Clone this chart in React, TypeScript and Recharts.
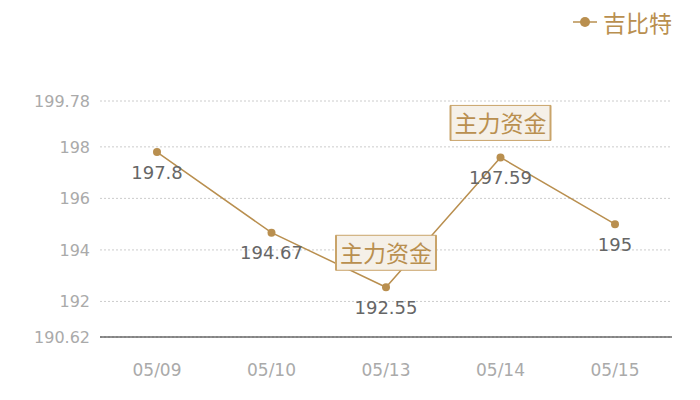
import React from 'react';
import { LineChart, Line, XAxis, YAxis, CartesianGrid, LabelList } from 'recharts';

const dates = ['05/09', '05/10', '05/13', '05/14', '05/15'];
const prices = [197.8, 194.67, 192.55, 197.59, 195];
const flagged = ['05/13', '05/14'];
const yTicks = [190.62, 192, 194, 196, 198, 199.78];
const seriesName = '吉比特';
const flagText = '主力资金';

const gold = '#b98f4f';
const font = '"DejaVu Sans", "Noto Sans CJK SC", sans-serif';

const rows = dates.map((d, i) => ({ date: d, price: prices[i] }));

const FlagBox = (props: any) => {
  const { x, y, index } = props;
  if (!flagged.includes(dates[index])) return null;
  const w = 100;
  const h = 35;
  const top = y - 17 - h;
  return (
    <g>
      <rect x={x - w / 2} y={top} width={w} height={h} fill="#f5f0e8" stroke="#c9a46a" strokeWidth={1} />
      <line x1={x - w / 2} y1={top} x2={x - w / 2} y2={top + h} stroke="#c9a46a" strokeWidth={2} />
      <line x1={x + w / 2} y1={top} x2={x + w / 2} y2={top + h} stroke="#c9a46a" strokeWidth={2} />
      <text x={x} y={top + h / 2 + 1} textAnchor="middle" dominantBaseline="central" fill={gold} fontSize={23} fontFamily={font}>
        {flagText}
      </text>
    </g>
  );
};

const App: React.FC = () => {
  return (
    <div style={{ position: 'absolute', left: 0, top: 0, width: 700, height: 400, background: '#fff' }}>
      <div style={{ position: 'absolute', top: 5, left: 573, display: 'flex', alignItems: 'center', fontFamily: font, zIndex: 2 }}>
        <svg width={26} height={28}>
          <line x1={0} y1={14} x2={24} y2={14} stroke={gold} strokeWidth={1.5} />
          <circle cx={12} cy={14} r={5} fill={gold} />
        </svg>
        <span style={{ color: gold, fontSize: 23, marginLeft: 4 }}>{seriesName}</span>
      </div>
      <LineChart width={700} height={400} data={rows} margin={{ top: 101, right: 28, left: 0, bottom: 23 }}>
        <CartesianGrid vertical={false} stroke="#ccc" strokeDasharray="2 2" />
        <XAxis
          dataKey="date"
          padding={{ left: 57, right: 57 }}
          axisLine={{ stroke: '#222' }}
          tickLine={false}
          tickMargin={21}
          height={40}
          tick={{ fill: '#aaa', fontSize: 17, fontFamily: font }}
        />
        <YAxis
          domain={[190.62, 199.78]}
          ticks={yTicks}
          interval={0}
          axisLine={false}
          tickLine={false}
          tickMargin={4}
          width={100}
          tick={{ fill: '#aaa', fontSize: 16, fontFamily: font }}
        />
        <Line
          type="linear"
          dataKey="price"
          stroke={gold}
          strokeWidth={1.5}
          dot={{ r: 4, fill: gold, stroke: 'none' }}
          activeDot={false}
          isAnimationActive={false}
        >
          <LabelList dataKey="price" position="bottom" offset={14} fill="#666" fontSize={18} fontFamily={font} />
          <LabelList dataKey="price" content={FlagBox} />
        </Line>
      </LineChart>
    </div>
  );
};

export default App;
